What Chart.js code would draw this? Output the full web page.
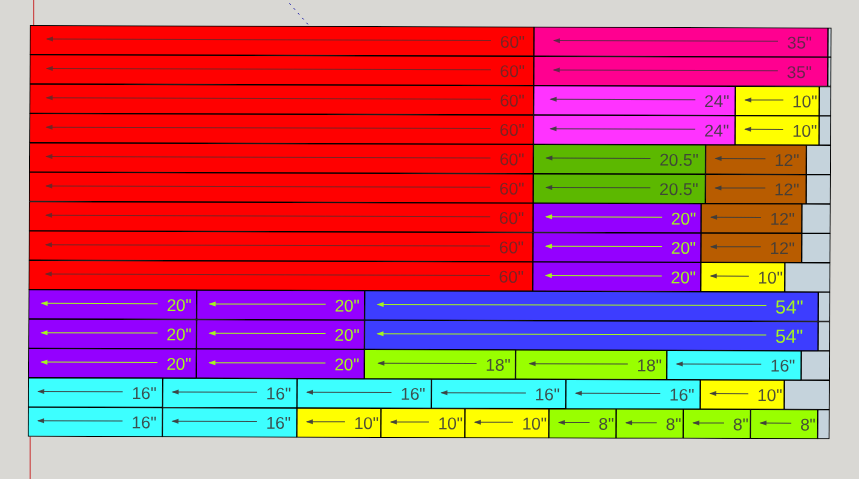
<!DOCTYPE html>
<html><head><meta charset="utf-8">
<script src="https://cdn.jsdelivr.net/npm/chart.js@4/dist/chart.umd.min.js"></script>
<style>html,body{margin:0;padding:0;background:#d9d8d4}canvas{display:block}</style>
</head><body><canvas id="c" width="859" height="479"></canvas>
<script>
const rows = ["1","2","3","4","5","6","7","8","9","10","11","12","13","14"];
const cut1 = [60,60,60,60,60,60,60,60,60,20,20,20,16,16];
const cut2 = [35,35,24,24,20.5,20.5,20,20,20,20,20,20,16,16];
const cut3 = [null,null,10,10,12,12,12,12,10,54,54,18,16,10];
const cut4 = [null,null,null,null,null,null,null,null,null,null,null,18,16,10];
const cut5 = [null,null,null,null,null,null,null,null,null,null,null,16,16,10];
const cut6 = [null,null,null,null,null,null,null,null,null,null,null,null,10,8];
const cut7 = [null,null,null,null,null,null,null,null,null,null,null,null,null,8];
const cut8 = [null,null,null,null,null,null,null,null,null,null,null,null,null,8];
const cut9 = [null,null,null,null,null,null,null,null,null,null,null,null,null,8];
const offcut = [0.4,0.4,1.4,1.4,2.9,2.9,3.4,3.4,5.4,1.4,1.4,3.4,5.4,1.4];

const colorBySize = {60:"#ff0000",35:"#ff0090",24:"#ff33ff",20.5:"#5cb800",20:"#9400ff",18:"#99ff00",
  16:"#3dffff",12:"#b85c00",10:"#ffff00",8:"#99ff00",54:"#3d3dff"};
const limeText = new Set([20,54]);
const textGap = {60:9,54:15,35:16,24:6,20.5:7,20:5,18:5,16:6,12:7,10:2,8:2};
const headGap = {60:17,54:13,35:20,24:17,20.5:13,20:13,18:14,16:10,12:10,10:10,8:10};
const cuts = [cut1,cut2,cut3,cut4,cut5,cut6,cut7,cut8,cut9];

const datasets = cuts.map(a => ({
  data:a, stack:"sheet", clip:false, borderColor:"#000", borderWidth:1, borderSkipped:false,
  backgroundColor:a.map(v => colorBySize[v] || "#000")
}));
datasets.push({data:offcut, stack:"sheet", clip:false, backgroundColor:"#c5d3dc", borderColor:"#000", borderWidth:1, borderSkipped:false});

const KX=-2/412, KY=0.0031;
const sketch = {
  id:"sketch",
  beforeDraw(ch){
    const c=ch.ctx,a=ch.chartArea,x=ch.scales.x;
    c.save();
    c.fillStyle="#d9d8d4";c.fillRect(0,0,ch.width,ch.height);
    c.strokeStyle="#c8302e";c.lineWidth=1;
    const ax=x.getPixelForValue(0.2);
    c.beginPath();c.moveTo(ax+3,0);c.lineTo(ax+3,a.top);c.moveTo(ax-0.5,a.bottom);c.lineTo(ax-0.5,ch.height);c.stroke();
    c.strokeStyle="#2222aa";c.setLineDash([2,4.5]);
    c.beginPath();c.moveTo(x.getPixelForValue(31),a.top-22);c.lineTo(x.getPixelForValue(33.2),a.top-1);c.stroke();
    c.restore();
  },
  beforeDatasetsDraw(ch){
    const c=ch.ctx;c.save();
    c.transform(1,KY,KX,1,1-KX*25,-KY*29);
  },
  afterDatasetsDraw(ch){
    const c=ch.ctx;
    cuts.forEach((arr,di)=>{
      const meta=ch.getDatasetMeta(di);
      arr.forEach((v,i)=>{
        if(v==null)return;
        const b=meta.data[i],L=Math.min(b.x,b.base),R=Math.max(b.x,b.base),y=b.y;
        const lime=limeText.has(v);
        const ink=lime?"#a6f520":(v===60?"rgba(105,40,40,.9)":(v===35?"rgba(90,40,70,.9)":"rgba(60,60,60,.9)"));
        const txt=v+'"';
        c.font=(v===54?"19px":"17px")+' "Liberation Sans", Arial, sans-serif';
        c.textAlign="right";c.textBaseline="middle";c.fillStyle=ink;
        const tw=c.measureText(txt).width;
        const tr=R-textGap[v];
        c.fillText(txt,tr,y+1.5);
        const head=L+headGap[v];
        const tail=tr-tw-9;
        c.strokeStyle=ink;c.fillStyle=ink;c.lineWidth=1;
        c.beginPath();c.moveTo(head,y-1);c.lineTo(tail,y-1);c.stroke();
        c.beginPath();c.moveTo(head-1,y-1);c.lineTo(head+6,y-3.5);c.lineTo(head+6,y+1.5);c.closePath();c.fill();
      });
    });
    c.restore();
  }
};

new Chart(document.getElementById("c"),{
  type:"bar",
  data:{labels:rows,datasets},
  plugins:[sketch],
  options:{
    indexAxis:"y",responsive:false,animation:false,devicePixelRatio:1,
    barPercentage:1,categoryPercentage:1,
    layout:{padding:{left:29,top:25.3,right:859-29-96*8.4,bottom:479-436.5}},
    plugins:{legend:{display:false},tooltip:{enabled:false},title:{display:false}},
    scales:{
      x:{type:"linear",stacked:true,min:0,max:96,display:false},
      y:{type:"category",stacked:true,display:false}
    }
  }
});
</script></body></html>
